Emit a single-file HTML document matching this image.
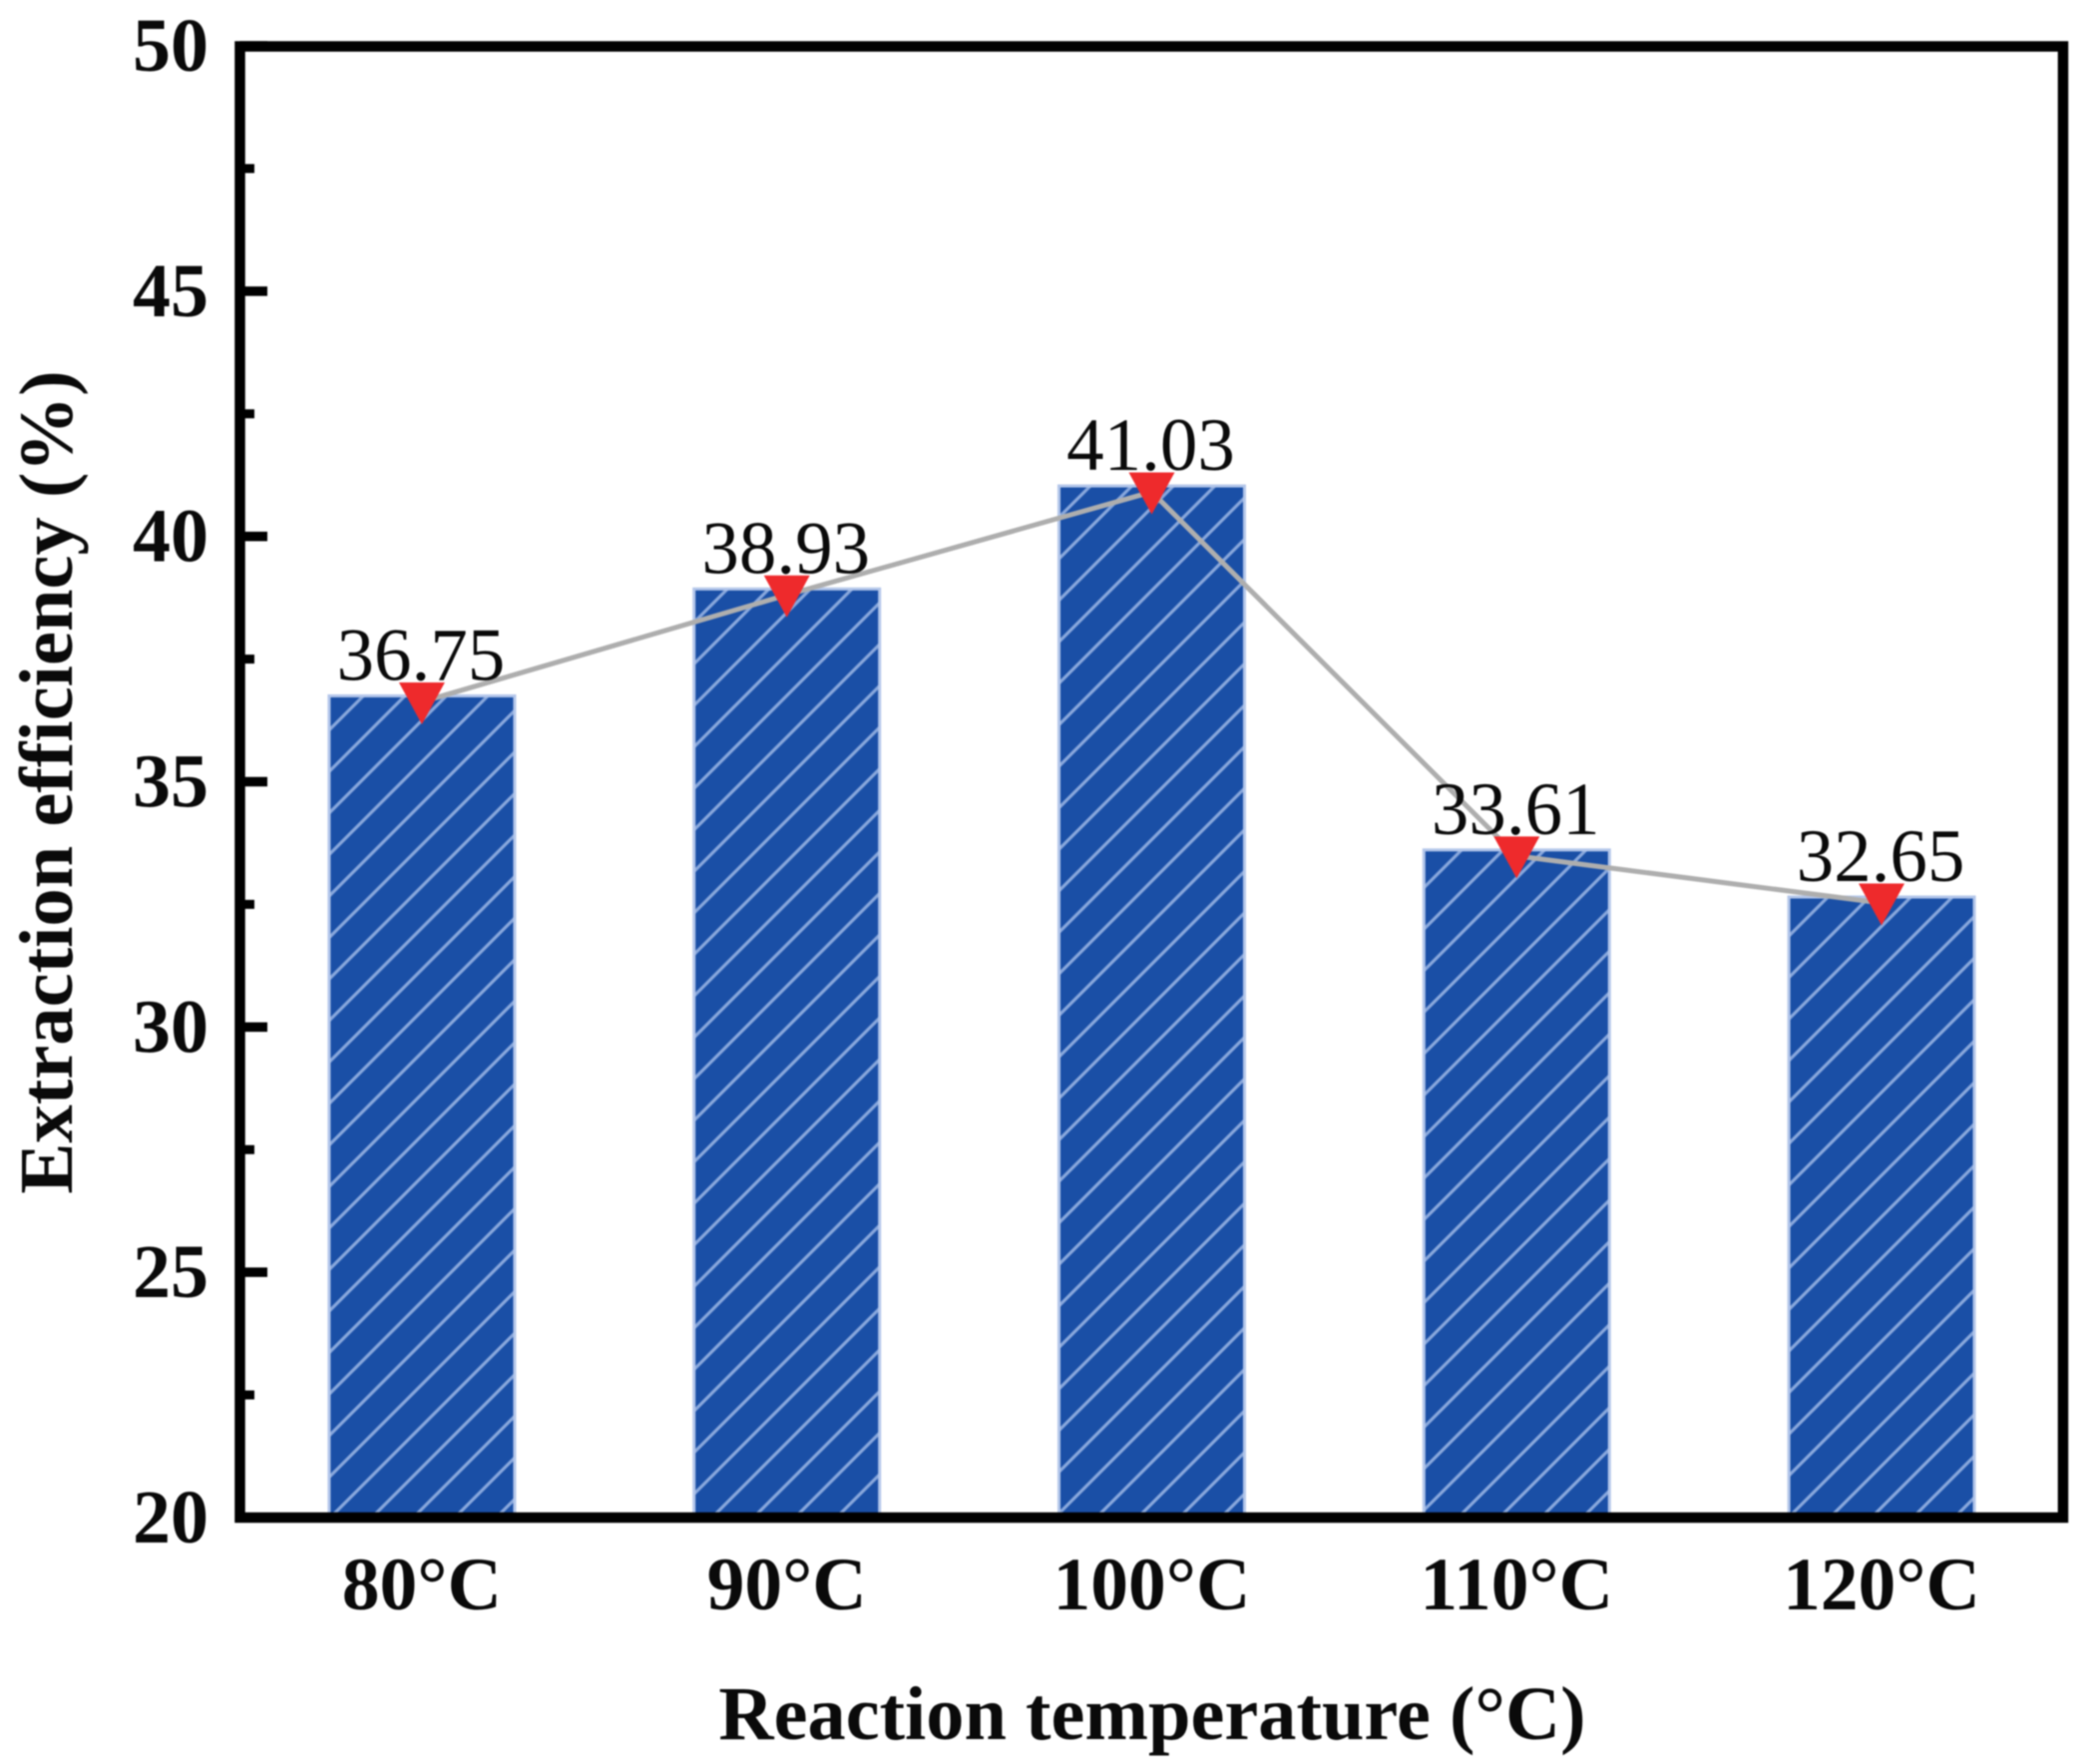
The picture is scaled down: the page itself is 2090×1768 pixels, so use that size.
<!DOCTYPE html>
<html lang="en">
<head>
<meta charset="utf-8">
<title>Extraction efficiency vs reaction temperature</title>
<style>
html,body{margin:0;padding:0;background:#fff;width:2090px;height:1768px;overflow:hidden}
svg{display:block;filter:blur(0.9px)}
text{font-family:"Liberation Serif","Times New Roman",serif;fill:#0a0a0a}
.bold{font-weight:700}
</style>
</head>
<body>
<svg id="chart" xmlns="http://www.w3.org/2000/svg" width="2090" height="1768" viewBox="0 0 2090 1768">
  <defs id="defs"></defs>
  <g id="bars"></g>
  <g id="trend"></g>
  <g id="markers"></g>
  <g id="values"></g>
  <rect x="240.5" y="46.5" width="1827.5" height="1474.5" fill="none" stroke="#000" stroke-width="10.5"></rect>
  <g id="yticks"></g>
  <g id="xlabels"></g>
  <text class="bold" x="1155" y="1743" font-size="76.4" text-anchor="middle">Reaction temperature (°C)</text>
  <text class="bold" x="0" y="0" font-size="76.6" text-anchor="middle" transform="translate(72 784) rotate(-90)">Extraction efficiency (%)</text>
</svg>
<script>
const categories = ['80°C', '90°C', '100°C', '110°C', '120°C'];
const efficiency = [36.75, 38.93, 41.03, 33.61, 32.65];
const valueLabels = ['36.75', '38.93', '41.03', '33.61', '32.65'];
const majorTicks = [20, 25, 30, 35, 40, 45, 50];
const minorTicks = [22.5, 27.5, 32.5, 37.5, 42.5, 47.5];

const NS = 'http://www.w3.org/2000/svg';
const plotLeft = 240.5, plotTop = 46, plotBottom = 1521;
const bandLeft = 240, bandStep = 365.8;
const yMin = 20, yMax = 50;
const barWidth = 186;
const hatchPeriod = 41.6;
const hatchPhase = [21.7, 29.9, 40.8, 29, 27.3];

function xScale(i) { return bandLeft + bandStep * (i + 0.5); }
function yScale(v) { return plotBottom - (v - yMin) / (yMax - yMin) * (plotBottom - plotTop); }

function make(tag, attrs, parent, text) {
  const el = document.createElementNS(NS, tag);
  for (const k in attrs) el.setAttribute(k, attrs[k]);
  if (text !== undefined) el.textContent = text;
  parent.appendChild(el);
  return el;
}

const defsEl = document.getElementById('defs');
const barsG = document.getElementById('bars');
const trendG = document.getElementById('trend');
const markersG = document.getElementById('markers');
const valuesG = document.getElementById('values');
const ticksG = document.getElementById('yticks');
const xLabelsG = document.getElementById('xlabels');

efficiency.forEach(function (v, i) {
  const cx = xScale(i), top = yScale(v);
  const pat = make('pattern', {
    id: 'hatch' + i, patternUnits: 'userSpaceOnUse',
    width: hatchPeriod, height: hatchPeriod, x: hatchPhase[i], y: 0
  }, defsEl);
  make('rect', { width: hatchPeriod, height: hatchPeriod, fill: '#1a4fa6' }, pat);
  make('path', {
    d: 'M-5 5L5 -5M0 ' + hatchPeriod + 'L' + hatchPeriod + ' 0M' + (hatchPeriod - 5) + ' ' + (hatchPeriod + 5) + 'L' + (hatchPeriod + 5) + ' ' + (hatchPeriod - 5),
    stroke: '#88a7dc', 'stroke-width': 3.2, fill: 'none'
  }, pat);

  const bar = make('rect', {
    x: cx - barWidth / 2, y: top, width: barWidth, height: plotBottom - top,
    fill: 'url(#hatch' + i + ')', stroke: '#b3c6ea', 'stroke-width': 3
  }, barsG);
  
  
});

const linePoints = efficiency.map(function (v, i) {
  return xScale(i) + ',' + (yScale(v) + 6);
}).join(' ');
const trendLine = make('polyline', {
  points: linePoints, fill: 'none', stroke: '#aeaeae', 'stroke-width': 5
}, trendG);



efficiency.forEach(function (v, i) {
  const cx = xScale(i), y = yScale(v);
  const tri = make('polygon', {
    points: (cx - 23) + ',' + (y - 13.5) + ' ' + (cx + 23) + ',' + (y - 13.5) + ' ' + cx + ',' + (y + 28.5),
    fill: '#ee2a2c'
  }, markersG);
  
  

  const label = make('text', {
    x: cx - 1, y: y - 16, 'font-size': 75, 'text-anchor': 'middle'
  }, valuesG, valueLabels[i]);
  
  

  const xLabel = make('text', {
    x: cx, y: 1613, 'font-size': 75.5, 'text-anchor': 'middle', 'class': 'bold'
  }, xLabelsG, categories[i]);
  
  
});

majorTicks.forEach(function (t) {
  const y = yScale(t);
  const tick = make('line', {
    x1: plotLeft, x2: 268, y1: y, y2: y, stroke: '#000', 'stroke-width': 9.5
  }, ticksG);
  
  

  const label = make('text', {
    x: 209, y: y + 25, 'font-size': 76, 'text-anchor': 'end', 'class': 'bold'
  }, ticksG, String(t));
  
  
});

minorTicks.forEach(function (t) {
  const y = yScale(t);
  const tick = make('line', {
    x1: plotLeft, x2: 255, y1: y, y2: y, stroke: '#000', 'stroke-width': 9
  }, ticksG);
  
  
});
</script>
</body>
</html>
